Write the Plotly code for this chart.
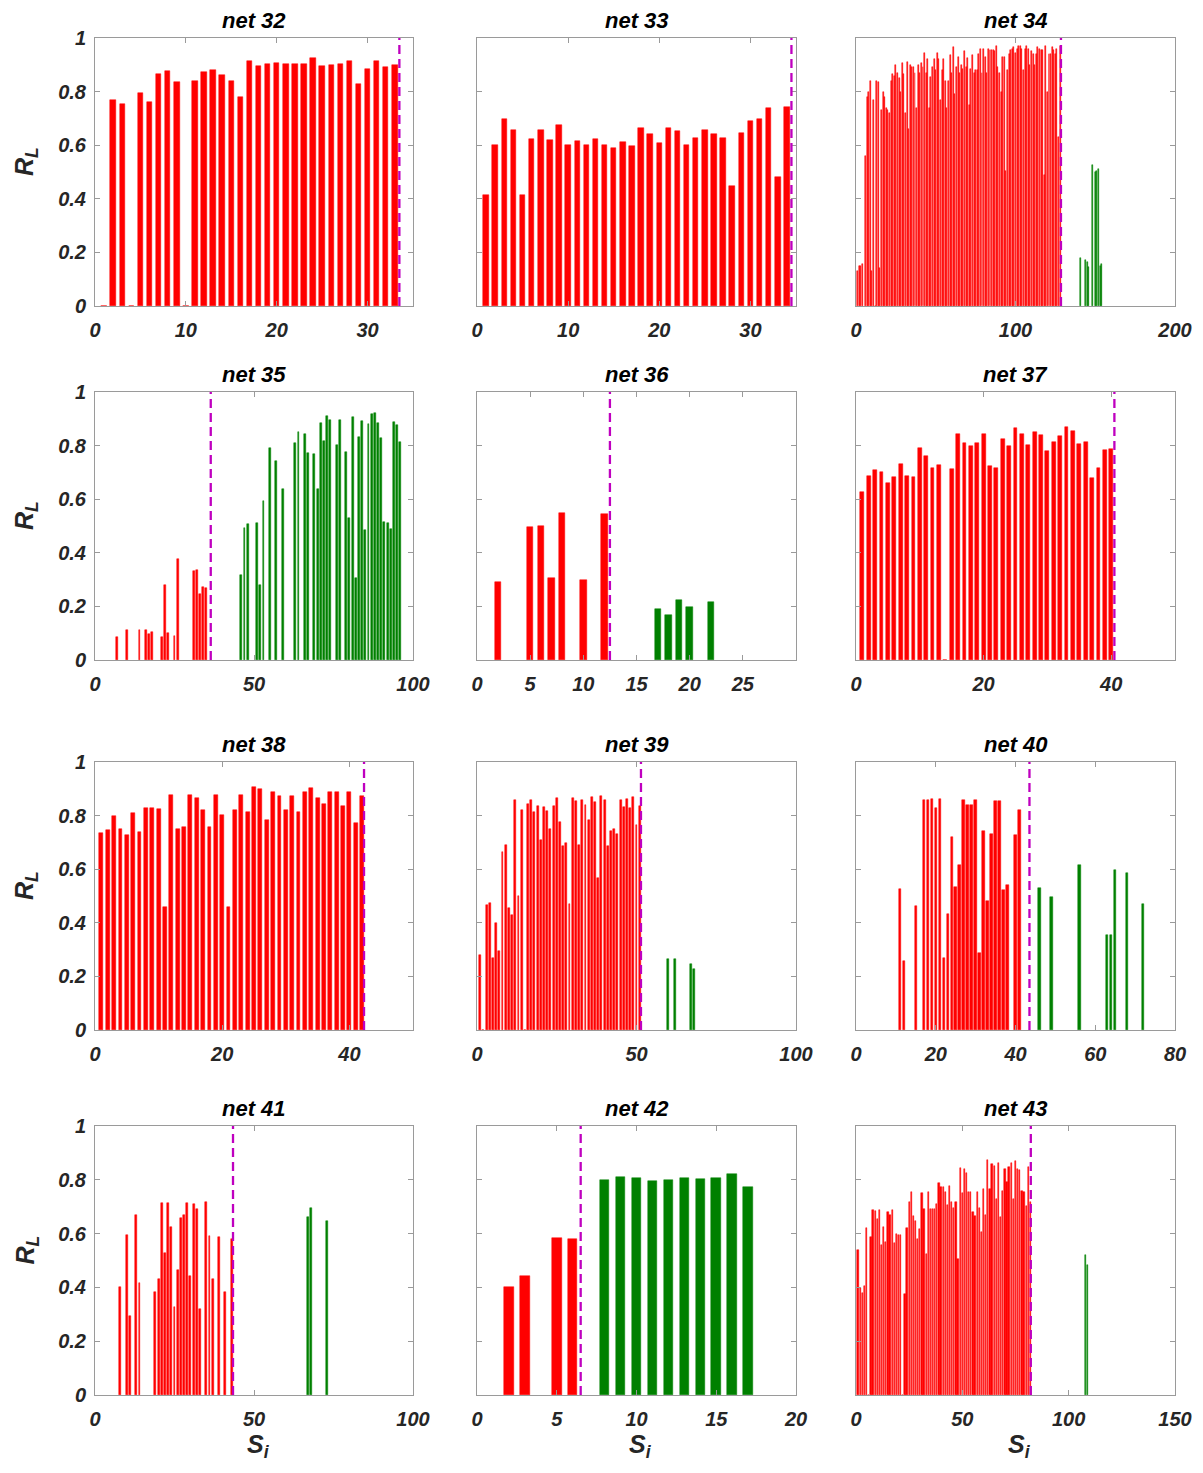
import plotly.graph_objects as go

# ---------------------------------------------------------------- data
# R_L per S_i for each network; red = before threshold, green = after.
# "red_*" lists are consecutive values starting at S_i = 1 (0 = no bar).
red_32 = [0, 0.768, 0.752, 0, 0.794, 0.760, 0.865, 0.877, 0.837, 0, 0.841,
          0.875, 0.881, 0.862, 0.839, 0.779, 0.913, 0.896, 0.904, 0.907,
          0.904, 0.902, 0.902, 0.925, 0.896, 0.898, 0.902, 0.916, 0.827,
          0.886, 0.916, 0.891, 0.901]

red_33 = [0.415, 0.601, 0.699, 0.657, 0.416, 0.625, 0.655, 0.620, 0.675,
          0.599, 0.617, 0.602, 0.625, 0.599, 0.588, 0.611, 0.598, 0.665,
          0.641, 0.610, 0.666, 0.652, 0.601, 0.627, 0.655, 0.641, 0.627,
          0.447, 0.646, 0.689, 0.696, 0.738, 0.480, 0.742]

red_34 = [0.13, 0.15, 0.15, 0.155, 0, 0.56, 0.78, 0.80, 0.84, 0.13,
          0.77, 0, 0.84, 0.835, 0.14, 0.73, 0.80, 0.78, 0.74, 0.73,
          0.72, 0.84, 0.865, 0.86, 0.90, 0.87, 0.85, 0.80, 0.905, 0.865,
          0.72, 0.91, 0.66, 0.90, 0.89, 0.89, 0.87, 0.74, 0.90, 0.87,
          0.905, 0.89, 0.945, 0.87, 0.92, 0.74, 0.855, 0.89, 0.92, 0.88,
          0.945, 0.92, 0.77, 0.88, 0.92, 0.84, 0.74, 0.84, 0.935, 0.87,
          0.965, 0.79, 0.89, 0.93, 0.87, 0.90, 0.885, 0.95, 0.89, 0.925,
          0.75, 0.885, 0.935, 0.87, 0.88, 0.88, 0.94, 0.96, 0.87, 0.96,
          0.93, 0.87, 0.96, 0.955, 0.955, 0.955, 0.95, 0.97, 0.89, 0.87,
          0.80, 0.93, 0.93, 0.505, 0.88, 0.94, 0.955, 0.96, 0.965, 0.945,
          0.96, 0.97, 0.97, 0.96, 0.88, 0.96, 0.97, 0.96, 0.90, 0.95,
          0.94, 0.90, 0.94, 0.965, 0.96, 0.955, 0.955, 0.49, 0.97, 0.80,
          0.94, 0.94, 0.965, 0.955, 0.94, 0.96, 0.63, 0.97]
green_34_x = [141, 144, 145, 146, 148, 150, 151, 152, 153, 154]
green_34_y = [0.18, 0.17, 0.165, 0.145, 0.525, 0.50, 0.505, 0.51, 0.15, 0.155]

red_35_x = [7, 10, 14, 16, 17, 18, 21, 22, 23, 25, 26, 31, 32, 33, 34, 35]
red_35_y = [0.086, 0.113, 0.111, 0.113, 0.098, 0.106, 0.086, 0.28, 0.10,
            0.09, 0.377, 0.332, 0.336, 0.248, 0.271, 0.269]
green_35_x = [46, 47, 48, 51, 52, 53, 55, 57, 59, 63, 64, 66, 67, 69, 70,
              71, 72, 73, 74, 76, 77, 79, 80, 81, 82, 83, 84, 85, 86, 87,
              88, 89, 90, 91, 92, 93, 94, 95, 96]
green_35_y = [0.317, 0.491, 0.509, 0.511, 0.279, 0.595, 0.79, 0.743, 0.637,
              0.81, 0.852, 0.842, 0.771, 0.767, 0.638, 0.883, 0.817, 0.912,
              0.897, 0.802, 0.896, 0.775, 0.529, 0.905, 0.306, 0.832, 0.893,
              0.486, 0.879, 0.918, 0.920, 0.884, 0.830, 0.515, 0.511, 0.489,
              0.888, 0.877, 0.813]

red_36_x = [2, 5, 6, 7, 8, 10, 12]
red_36_y = [0.292, 0.496, 0.501, 0.307, 0.55, 0.298, 0.546]
green_36_x = [17, 18, 19, 20, 22]
green_36_y = [0.19, 0.167, 0.224, 0.198, 0.215]

red_37 = [0.627, 0.687, 0.709, 0.701, 0.662, 0.684, 0.730, 0.685, 0.683,
          0.791, 0.760, 0.716, 0.726, 0, 0.711, 0.845, 0.808, 0.799, 0.808,
          0.842, 0.723, 0.716, 0.826, 0.799, 0.864, 0.845, 0.801, 0.852,
          0.838, 0.781, 0.815, 0.836, 0.868, 0.854, 0.805, 0.815, 0.678,
          0.715, 0.785, 0.789]

red_38 = [0.736, 0.745, 0.799, 0.751, 0.729, 0.810, 0.740, 0.827, 0.827,
          0.825, 0.458, 0.878, 0.751, 0.757, 0.878, 0.864, 0.821, 0.756,
          0.878, 0.802, 0.458, 0.820, 0.877, 0.812, 0.907, 0.899, 0.784,
          0.889, 0.873, 0.822, 0.872, 0.812, 0.887, 0.902, 0.866, 0.842,
          0.887, 0.887, 0.835, 0.889, 0.772, 0.872]

red_39 = [0.28, 0, 0.468, 0.475, 0.27, 0.398, 0.296, 0.664, 0.69, 0.455,
          0.429, 0.857, 0.501, 0.82, 0, 0.842, 0.86, 0.813, 0.836, 0.709,
          0.831, 0.818, 0.751, 0.835, 0.866, 0.777, 0.685, 0.698, 0.469,
          0.866, 0.854, 0.692, 0.857, 0.84, 0.784, 0.869, 0.851, 0.566,
          0.873, 0.858, 0.688, 0.743, 0.75, 0.731, 0.857, 0.832, 0.861,
          0.828, 0.869, 0.766, 0.837]
green_39_x = [60, 62, 67, 68]
green_39_y = [0.265, 0.265, 0.245, 0.226]

red_40_x = [11, 12, 15, 17, 18, 19, 20, 21, 22, 23, 24, 25, 26, 27, 28, 29,
            30, 31, 32, 33, 34, 35, 36, 37, 38, 40, 41]
red_40_y = [0.527, 0.259, 0.461, 0.858, 0.858, 0.862, 0.83, 0.863, 0.27,
            0.433, 0.72, 0.534, 0.617, 0.857, 0.838, 0.838, 0.859, 0.286,
            0.744, 0.481, 0.733, 0.854, 0.854, 0.521, 0.541, 0.729, 0.82]
green_40_x = [46, 49, 56, 63, 64, 65, 68, 72]
green_40_y = [0.53, 0.496, 0.616, 0.356, 0.356, 0.597, 0.586, 0.469]

red_41_x = [8, 10, 11, 13, 14, 19, 20, 21, 22, 23, 24, 25, 26, 27, 28, 29,
            30, 31, 32, 33, 35, 36, 37, 39, 41, 43]
red_41_y = [0.402, 0.593, 0.292, 0.671, 0.416, 0.383, 0.432, 0.713, 0.527,
            0.712, 0.625, 0.327, 0.465, 0.658, 0.668, 0.712, 0.441, 0.711,
            0.692, 0.32, 0.719, 0.591, 0.43, 0.588, 0.383, 0.579]
green_41_x = [67, 68, 73]
green_41_y = [0.662, 0.696, 0.647]

red_42_x = [2, 3, 5, 6]
red_42_y = [0.401, 0.443, 0.583, 0.580]
green_42_x = [8, 9, 10, 11, 12, 13, 14, 15, 16, 17]
green_42_y = [0.798, 0.809, 0.805, 0.795, 0.80, 0.806, 0.804, 0.806, 0.821,
              0.773]

red_43 = [0.54, 0.396, 0.381, 0.407, 0.621, 0, 0.589, 0.689, 0.684, 0.655,
          0.686, 0.559, 0.626, 0.568, 0.682, 0.67, 0.686, 0.565, 0.599,
          0.596, 0.595, 0, 0.375, 0.621, 0.716, 0.754, 0.666, 0.648, 0.581,
          0.616, 0.752, 0.693, 0.524, 0.754, 0.692, 0.692, 0.692, 0.711,
          0.789, 0.773, 0.774, 0.755, 0.706, 0.776, 0.718, 0.696, 0.718,
          0.506, 0.843, 0.75, 0.84, 0.827, 0.753, 0.753, 0.682, 0.666,
          0.753, 0.696, 0.607, 0.766, 0.668, 0.875, 0.764, 0.86, 0.852,
          0.73, 0.863, 0.661, 0.757, 0.84, 0.79, 0.846, 0.862, 0.729, 0.871,
          0.839, 0.837, 0.759, 0.755, 0.704, 0.846, 0.718]
green_43_x = [108, 109]
green_43_y = [0.52, 0.482]

net_ids = [32, 33, 34, 35, 36, 37, 38, 39, 40, 41, 42, 43]
thresholds = [33.5, 34.5, 128.5, 36.4, 12.5, 40.5, 42.3, 51.4, 43.5, 43.4,
              6.5, 82.2]
x_max = [35, 35, 200, 100, 30, 50, 50, 100, 80, 100, 20, 150]
x_ticks = [[0, 10, 20, 30], [0, 10, 20, 30], [0, 100, 200], [0, 50, 100],
           [0, 5, 10, 15, 20, 25], [0, 20, 40], [0, 20, 40], [0, 50, 100],
           [0, 20, 40, 60, 80], [0, 50, 100], [0, 5, 10, 15, 20],
           [0, 50, 100, 150]]
y_ticks = [0, 0.2, 0.4, 0.6, 0.8, 1]
y_tick_text = ["0", "0.2", "0.4", "0.6", "0.8", "1"]


def consecutive(vals):
    return list(range(1, len(vals) + 1)), vals


series = {
    32: (consecutive(red_32), ([], [])),
    33: (consecutive(red_33), ([], [])),
    34: (consecutive(red_34), (green_34_x, green_34_y)),
    35: ((red_35_x, red_35_y), (green_35_x, green_35_y)),
    36: ((red_36_x, red_36_y), (green_36_x, green_36_y)),
    37: (consecutive(red_37), ([], [])),
    38: (consecutive(red_38), ([], [])),
    39: (consecutive(red_39), (green_39_x, green_39_y)),
    40: ((red_40_x, red_40_y), (green_40_x, green_40_y)),
    41: ((red_41_x, red_41_y), (green_41_x, green_41_y)),
    42: ((red_42_x, red_42_y), (green_42_x, green_42_y)),
    43: (consecutive(red_43), (green_43_x, green_43_y)),
}

# ---------------------------------------------------------------- layout
W, H = 1203, 1473

# axes boxes in figure pixels
col_px = [(95, 413), (477, 796), (856, 1175)]
row_px = [(38, 306), (392, 660), (762, 1030), (1126, 1395)]


def px_x(p):
    return p / W


def px_y(p):
    return 1 - p / H


RED = "#FF0000"
GREEN = "#008000"
MAGENTA = "#BF00BF"
AXIS_GREY = "#9a9a9a"
TEXT = "#262626"
FONT = "Liberation Sans"
BAR_W = 0.6

tick_font = dict(family=FONT, size=20, color=TEXT, weight="bold", style="italic")

fig = go.Figure()
layout = dict(
    width=W, height=H, autosize=False,
    margin=dict(l=0, r=0, t=0, b=0, pad=0, autoexpand=False),
    paper_bgcolor="white", plot_bgcolor="white",
    showlegend=False, bargap=0, barmode="overlay",
)
shapes, annotations = [], []

for k, net in enumerate(net_ids):
    r, c = divmod(k, 3)
    x0, x1 = col_px[c]
    y0, y1 = row_px[r]
    n = k + 1
    xa = "x" if n == 1 else f"x{n}"
    ya = "y" if n == 1 else f"y{n}"

    (rx, ry), (gx, gy) = series[net]
    for xs, ys, color in ((rx, ry, RED), (gx, gy, GREEN)):
        if not xs:
            continue
        fig.add_trace(go.Bar(
            x=xs, y=ys, width=BAR_W, xaxis=xa, yaxis=ya,
            marker=dict(color=color, line=dict(color=color, width=0.5)),
            hoverinfo="x+y",
        ))

    layout[f"xaxis{'' if n == 1 else n}"] = dict(
        domain=[px_x(x0), px_x(x1)], anchor=ya, range=[0, x_max[k]],
        tickvals=x_ticks[k], ticktext=[str(t) for t in x_ticks[k]],
        ticks="inside", ticklen=5, tickcolor=AXIS_GREY, tickwidth=1,
        showline=True, linecolor=AXIS_GREY, linewidth=1, mirror="ticks",
        showgrid=False, zeroline=False, tickfont=tick_font,
        ticklabelstandoff=6, automargin=False,
    )
    layout[f"yaxis{'' if n == 1 else n}"] = dict(
        domain=[px_y(y1), px_y(y0)], anchor=xa, range=[0, 1],
        tickvals=y_ticks, ticktext=y_tick_text,
        showticklabels=(c == 0),
        ticks="inside", ticklen=5, tickcolor=AXIS_GREY, tickwidth=1,
        showline=True, linecolor=AXIS_GREY, linewidth=1, mirror="ticks",
        showgrid=False, zeroline=False, tickfont=tick_font,
        ticklabelstandoff=4, automargin=False,
    )

    # threshold marker
    shapes.append(dict(
        type="line", xref=xa, yref=f"{ya} domain",
        x0=thresholds[k], x1=thresholds[k], y0=0, y1=1,
        line=dict(color=MAGENTA, width=2.3, dash="9px,5px"),
    ))

    # panel title
    annotations.append(dict(
        text=f"<b><i>net {net}</i></b>", xref="paper", yref="paper",
        x=px_x((x0 + x1) / 2), y=px_y(y0 - 3),
        xanchor="center", yanchor="bottom", showarrow=False,
        font=dict(family=FONT, size=22, color="black"),
    ))

    if c == 0:
        annotations.append(dict(
            text="<b><i>R<sub>L</sub></i></b>", xref="paper", yref="paper",
            x=px_x(26), y=px_y((y0 + y1) / 2 - 10),
            xanchor="center", yanchor="middle", showarrow=False,
            textangle=-90, font=dict(family=FONT, size=25, color=TEXT),
        ))
    if r == 3:
        annotations.append(dict(
            text="<b><i>S<sub>i</sub></i></b>", xref="paper", yref="paper",
            x=px_x((x0 + x1) / 2 + 4), y=px_y(1446),
            xanchor="center", yanchor="middle", showarrow=False,
            font=dict(family=FONT, size=25, color=TEXT),
        ))

layout["shapes"] = shapes
layout["annotations"] = annotations
fig.update_layout(**layout)
fig.write_html("out.html")
